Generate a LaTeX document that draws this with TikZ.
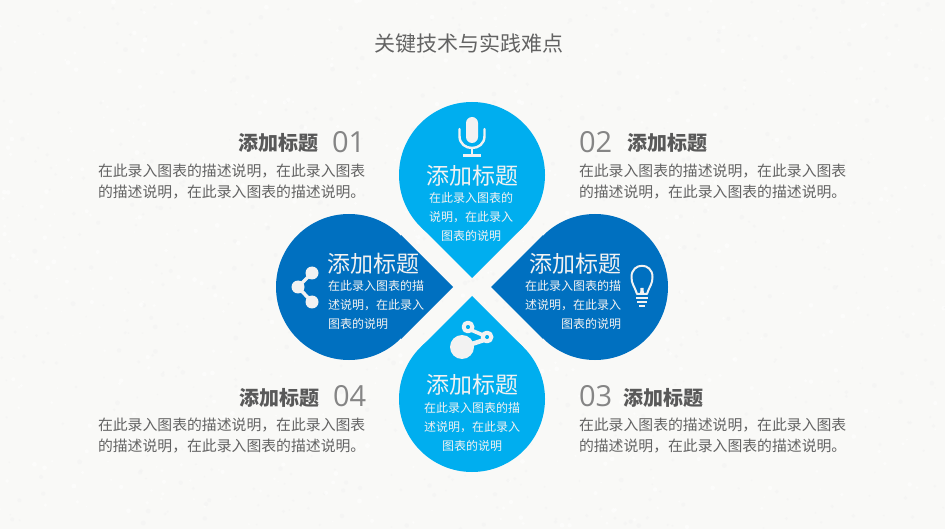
\documentclass[tikz,border=0pt]{standalone}
\usepackage{fontspec}
\setmainfont{Noto Sans CJK SC}
\newfontfamily\numfont{Open Sans}
\definecolor{paper}{HTML}{F9F9F7}
\definecolor{lightblue}{HTML}{00AEEF}
\definecolor{darkblue}{HTML}{0070C0}
\definecolor{inktext}{HTML}{595959}
\definecolor{bodygray}{HTML}{636363}
\definecolor{numgray}{HTML}{858585}
\definecolor{iconwhite}{HTML}{F2F2F2}
\tikzset{
  txt/.style={inner sep=0pt,outer sep=0pt},
  titletext/.style={txt,text=bodygray,font=\fontsize{21}{21}\selectfont},
  headtext/.style={txt,text=inktext,font=\fontsize{20}{20}\selectfont\bfseries},
  numtext/.style={txt,text=numgray,font=\fontsize{29}{29}\selectfont\numfont},
  bodytext/.style={txt,text=bodygray,font=\fontsize{14.85}{21}\selectfont,align=left,anchor=west},
  droptitle/.style={txt,text=iconwhite,font=\fontsize{23}{23}\selectfont},
  droptext/.style={txt,text=iconwhite,font=\fontsize{12}{18.6}\selectfont},
  iconline/.style={draw=iconwhite,line cap=round,line join=round},
  iconfill/.style={fill=iconwhite},
}
\newcommand{\petal}[5]{%
  \fill[#1] (#2,#3) circle[radius=73pt];
  \fill[#1] (#4,#5) -- ($(#2,#3)!0.7071!45:(#4,#5)$) -- ($(#2,#3)!0.7071!-45:(#4,#5)$) -- cycle;
}
\usetikzlibrary{calc}
\begin{document}
\begin{tikzpicture}[x=1pt,y=-1pt]
\useasboundingbox (0,0) rectangle (945,529);
\fill[paper] (0,0) rectangle (945,529);
\pgfmathsetseed{7}
\foreach \i in {1,...,1400}{
  \pgfmathsetmacro{\px}{rnd*945}
  \pgfmathsetmacro{\py}{rnd*529}
  \pgfmathsetmacro{\pr}{0.7+rnd*1.8}
  \pgfmathsetmacro{\pc}{mod(\i,2)==0?100:0}
  \fill[white!\pc!black!5,opacity=.5] (\px,\py) circle[radius=\pr pt];
}
% petals
\petal{lightblue}{472}{175}{472}{278}
\petal{darkblue}{349}{287}{453}{287}
\petal{darkblue}{595}{287}{491}{287}
\petal{lightblue}{472}{399}{472}{296}
% title
\node[titletext] (title) at (469,44) {关键技术与实践难点};
% side blocks
\node[headtext,anchor=east] (h1) at (318,143) {添加标题};
\node[numtext,anchor=west] (n1) at (332,142) {01};
\node[bodytext] (b1) at (98,182) {在此录入图表的描述说明，在此录入图表\\的描述说明，在此录入图表的描述说明。};
\node[numtext,anchor=west] (n2) at (579,142) {02};
\node[headtext,anchor=west] (h2) at (627,143) {添加标题};
\node[bodytext] (b2) at (579,182) {在此录入图表的描述说明，在此录入图表\\的描述说明，在此录入图表的描述说明。};
\node[numtext,anchor=west] (n3) at (579,396) {03};
\node[headtext,anchor=west] (h3) at (623,398) {添加标题};
\node[bodytext] (b3) at (579,436) {在此录入图表的描述说明，在此录入图表\\的描述说明，在此录入图表的描述说明。};
\node[headtext,anchor=east] (h4) at (319,398) {添加标题};
\node[numtext,anchor=west] (n4) at (333,396) {04};
\node[bodytext] (b4) at (98,436) {在此录入图表的描述说明，在此录入图表\\的描述说明，在此录入图表的描述说明。};
% petal text
\node[droptitle] (t1) at (472,176) {添加标题};
\node[droptext,align=center] (d1) at (471,217) {在此录入图表的\\说明，在此录入\\图表的说明};
\node[droptitle,anchor=west] (t2) at (327,264) {添加标题};
\node[droptext,align=left,anchor=west] (d2) at (328,305) {在此录入图表的描\\述说明，在此录入\\图表的说明};
\node[droptitle,anchor=east] (t3) at (621,264) {添加标题};
\node[droptext,align=right,anchor=east] (d3) at (621,305) {在此录入图表的描\\述说明，在此录入\\图表的说明};
\node[droptitle] (t4) at (472,385) {添加标题};
\node[droptext,align=center] (d4) at (472,427) {在此录入图表的描\\述说明，在此录入\\图表的说明};
% microphone
\fill[iconfill] (466,123) arc[start angle=180,end angle=0,radius=6pt] -- (478,137) arc[start angle=0,end angle=-180,radius=6pt] -- cycle;
\draw[iconline,line width=2.4pt] (459.5,129) -- (459.5,136) .. controls (459.5,152) and (484.5,152) .. (484.5,136) -- (484.5,129);
\draw[iconline,line width=2.4pt,line cap=butt] (472,148) -- (472,155);
\draw[iconline,line width=2.2pt,line cap=butt] (463,155.5) -- (481,155.5);
% share icon
\draw[iconline,line width=3.5pt] (312,273) -- (298,287) -- (312,302);
\fill[iconfill] (312,273) circle[radius=6.5pt] (298,287) circle[radius=6.5pt] (312,302) circle[radius=6.5pt];
% molecule icon
\fill[iconfill] (462,347) circle[radius=12pt];
\draw[iconline,line width=4.5pt] (466,346) -- (484,340);
\draw[iconline,line width=3.6pt] (471,330) -- (484,335.5);
\draw[iconline,line width=4pt] (468,327) circle[radius=4.4pt];
\draw[iconline,line width=4pt] (487,337) circle[radius=4.4pt];
% bulb icon
\draw[iconline,line width=2pt] (637,294) .. controls (634,285) and (631.5,284) .. (631.5,277) .. controls (631.5,262) and (652.5,262) .. (652.5,277) .. controls (652.5,284) and (650,285) .. (647,294) -- cycle;
\fill[iconfill] (640,295) -- (640.5,288) -- (643.5,288) -- (644,295) -- cycle;
\draw[iconline,line width=2pt,line cap=butt] (636,298) -- (648,298);
\draw[iconline,line width=2pt,line cap=butt] (637,302) -- (647,302);
\draw[iconline,line width=2.5pt,line cap=butt] (639,306) -- (645,306);
\end{tikzpicture}
\end{document}
